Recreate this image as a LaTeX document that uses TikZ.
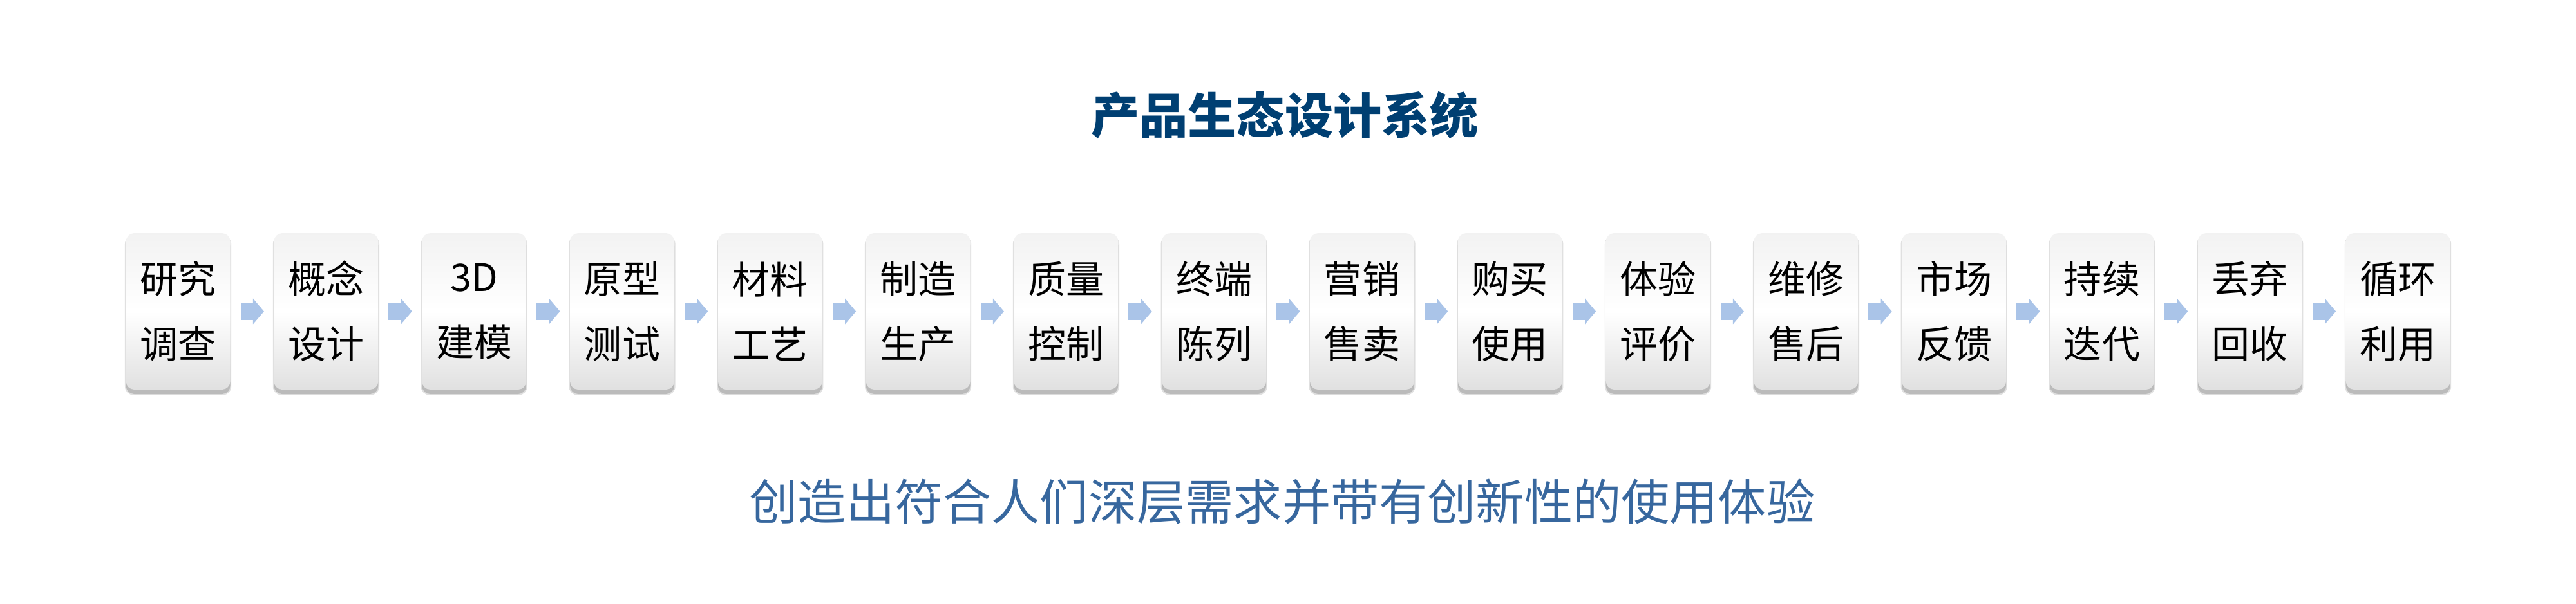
\documentclass[tikz,border=0pt]{standalone}
\usepackage{fontspec}
\newfontfamily\cjk{Noto Sans CJK SC}
\usepackage{tikz}
\usetikzlibrary{positioning,arrows.meta,shadows}

\definecolor{titleblue}{RGB}{0,63,114}
\definecolor{subblue}{RGB}{55,103,158}
\definecolor{arrowblue}{RGB}{170,196,232}

\begin{document}
\begin{tikzpicture}[%
    stage/.style={rectangle, rounded corners=0.13cm, minimum width=1.62cm,
        minimum height=2.43cm, inner sep=0pt, outer sep=0pt, align=center,
        top color=black!5, bottom color=black!12, middle color=white,
        general shadow={shadow scale=1.02, shadow yshift=-0.06cm, opacity=0.12, fill=black},
        drop shadow={shadow xshift=0pt, shadow yshift=-0.07cm, opacity=0.3, fill=black!60},
        font=\cjk\fontsize{16.8}{28.7}\selectfont},
    flow/.style={line width=0.27cm, draw=arrowblue,
        -{Triangle[length=0.17cm, width=0.39cm]},
        shorten <=0.16cm, shorten >=0.155cm},
    node distance=0.678cm]
    \useasboundingbox (0,0) rectangle (40,-9.37);

    \node[font=\cjk\bfseries\fontsize{21.4}{24}\selectfont, text=titleblue]
        (title) at (19.95,-1.79) {产品生态设计系统};

    \node[stage] (s1) at (2.766,-4.835) {研究\\调查};
    \node[stage, right=of s1] (s2) {概念\\设计};
    \node[stage, right=of s2] (s3) {3D\\建模};
    \node[stage, right=of s3] (s4) {原型\\测试};
    \node[stage, right=of s4] (s5) {材料\\工艺};
    \node[stage, right=of s5] (s6) {制造\\生产};
    \node[stage, right=of s6] (s7) {质量\\控制};
    \node[stage, right=of s7] (s8) {终端\\陈列};
    \node[stage, right=of s8] (s9) {营销\\售卖};
    \node[stage, right=of s9] (s10) {购买\\使用};
    \node[stage, right=of s10] (s11) {体验\\评价};
    \node[stage, right=of s11] (s12) {维修\\售后};
    \node[stage, right=of s12] (s13) {市场\\反馈};
    \node[stage, right=of s13] (s14) {持续\\迭代};
    \node[stage, right=of s14] (s15) {丢弃\\回收};
    \node[stage, right=of s15] (s16) {循环\\利用};

    \draw[flow] (s1) -- (s2);
    \draw[flow] (s2) -- (s3);
    \draw[flow] (s3) -- (s4);
    \draw[flow] (s4) -- (s5);
    \draw[flow] (s5) -- (s6);
    \draw[flow] (s6) -- (s7);
    \draw[flow] (s7) -- (s8);
    \draw[flow] (s8) -- (s9);
    \draw[flow] (s9) -- (s10);
    \draw[flow] (s10) -- (s11);
    \draw[flow] (s11) -- (s12);
    \draw[flow] (s12) -- (s13);
    \draw[flow] (s13) -- (s14);
    \draw[flow] (s14) -- (s15);
    \draw[flow] (s15) -- (s16);

    \node[font=\cjk\fontsize{21.4}{24}\selectfont, text=subblue]
        (motto) at (19.91,-7.79) {创造出符合人们深层需求并带有创新性的使用体验};
\end{tikzpicture}
\end{document}
